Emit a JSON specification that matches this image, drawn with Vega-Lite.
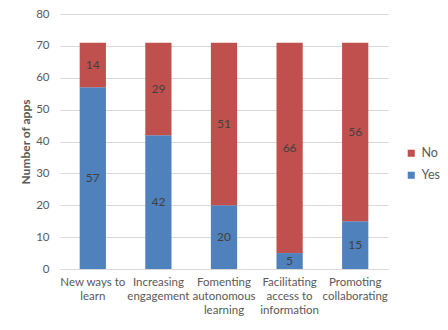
{
  "$schema": "https://vega.github.io/schema/vega-lite/v6.json",
  "width": 328,
  "height": 255,
  "autosize": {"type": "none"},
  "padding": {"left": 60, "top": 14, "right": 60, "bottom": 61},
  "background": "white",
  "config": {"view": {"stroke": null}, "font": "Lato"},
  "data": {"values": [
    {"cat": "New ways to|learn", "series": "Yes", "count": 57},
    {"cat": "New ways to|learn", "series": "No", "count": 14},
    {"cat": "Increasing|engagement", "series": "Yes", "count": 42},
    {"cat": "Increasing|engagement", "series": "No", "count": 29},
    {"cat": "Fomenting|autonomous|learning", "series": "Yes", "count": 20},
    {"cat": "Fomenting|autonomous|learning", "series": "No", "count": 51},
    {"cat": "Facilitating|access to|information", "series": "Yes", "count": 5},
    {"cat": "Facilitating|access to|information", "series": "No", "count": 66},
    {"cat": "Promoting|collaborating", "series": "Yes", "count": 15},
    {"cat": "Promoting|collaborating", "series": "No", "count": 56}
  ]},
  "transform": [
    {"stack": "count", "groupby": ["cat"], "sort": [{"field": "series", "order": "descending"}], "as": ["y0", "y1"]},
    {"calculate": "(datum.y0 + datum.y1) / 2", "as": "mid"}
  ],
  "encoding": {
    "x": {
      "field": "cat", "type": "nominal", "sort": null,
      "scale": {"paddingInner": 0.6, "paddingOuter": 0.3},
      "axis": {
        "title": null, "labelAngle": 0, "labelExpr": "split(datum.value, '|')",
        "labelFontSize": 11.5, "labelColor": "#595959", "labelLineHeight": 14,
        "ticks": false, "domainColor": "#D9D9D9", "labelPadding": 7
      }
    },
    "y": {"type": "quantitative",
      "scale": {"domain": [0, 80]},
      "axis": {"title": "Number of apps", "titleFontSize": 12, "titleFontWeight": "bold", "titleColor": "#595959",
        "values": [0,10,20,30,40,50,60,70,80], "labelFontSize": 11.5, "labelColor": "#595959",
        "domain": false, "ticks": false, "gridColor": "#D9D9D9", "labelPadding": 11, "titlePadding": 3}}
  },
  "layer": [
    {
      "mark": {"type": "bar"},
      "encoding": {
        "y": {"field": "y0", "type": "quantitative"},
        "y2": {"field": "y1"},
        "color": {"field": "series", "type": "nominal",
          "scale": {"domain": ["No", "Yes"], "range": ["#C0504D", "#4F81BD"]},
          "legend": {"title": null, "symbolType": "square", "symbolSize": 50, "labelFontSize": 12.5, "labelColor": "#595959",
            "rowPadding": 9, "orient": "none", "legendX": 345, "legendY": 133, "symbolStrokeWidth": 0}}
      }
    },
    {
      "mark": {"type": "text", "fontSize": 12, "color": "#404040", "baseline": "middle"},
      "encoding": {
        "y": {"field": "mid", "type": "quantitative"},
        "text": {"field": "count", "type": "quantitative"}
      }
    }
  ]
}
